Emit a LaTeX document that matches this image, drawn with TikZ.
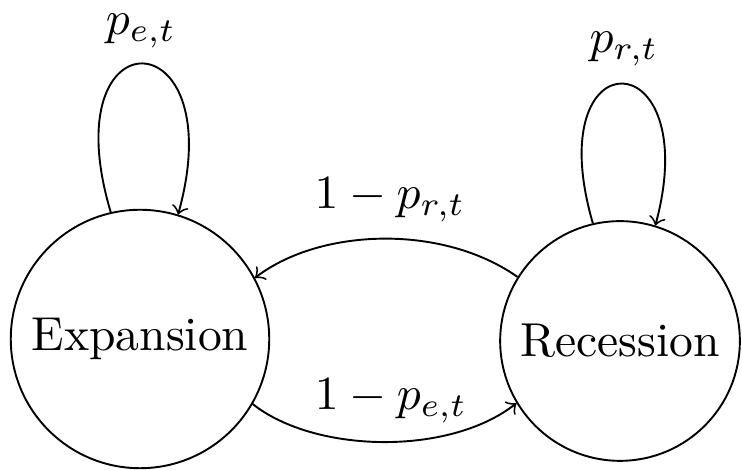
\documentclass[tikz,border=0pt]{standalone}
\begin{document}
\begin{tikzpicture}[x=0.21pt,y=-0.21pt,
  state/.style={circle,draw,line width=0.4pt},
  edge/.style={->,line width=0.4pt},
  lbl/.style={inner sep=0pt}]
\useasboundingbox (0,0) rectangle (742,470);
\node[state] (E) at (140,339) {Expansion};
\node[state] (R) at (620,341) {Recession};
\draw[edge] (E.103) .. controls +(-60,-201) and +(55,-198) .. (E.73);
\draw[edge] (R.103) .. controls +(-55,-189) and +(50,-186) .. (R.73);
\draw[edge] (R.148) .. controls +(-75,-53) and +(66,-50) .. (E.28);
\draw[edge] (E.-30) .. controls +(62,49) and +(-68,53) .. (R.-149);
\node[lbl] (pe) at (141,31) {$p_{e,t}$};
\node[lbl] (pr) at (624,49) {$p_{r,t}$};
\node[lbl] (qr) at (390,200) {$1-p_{r,t}$};
\node[lbl] (qe) at (391,401) {$1-p_{e,t}$};
\end{tikzpicture}
\end{document}
